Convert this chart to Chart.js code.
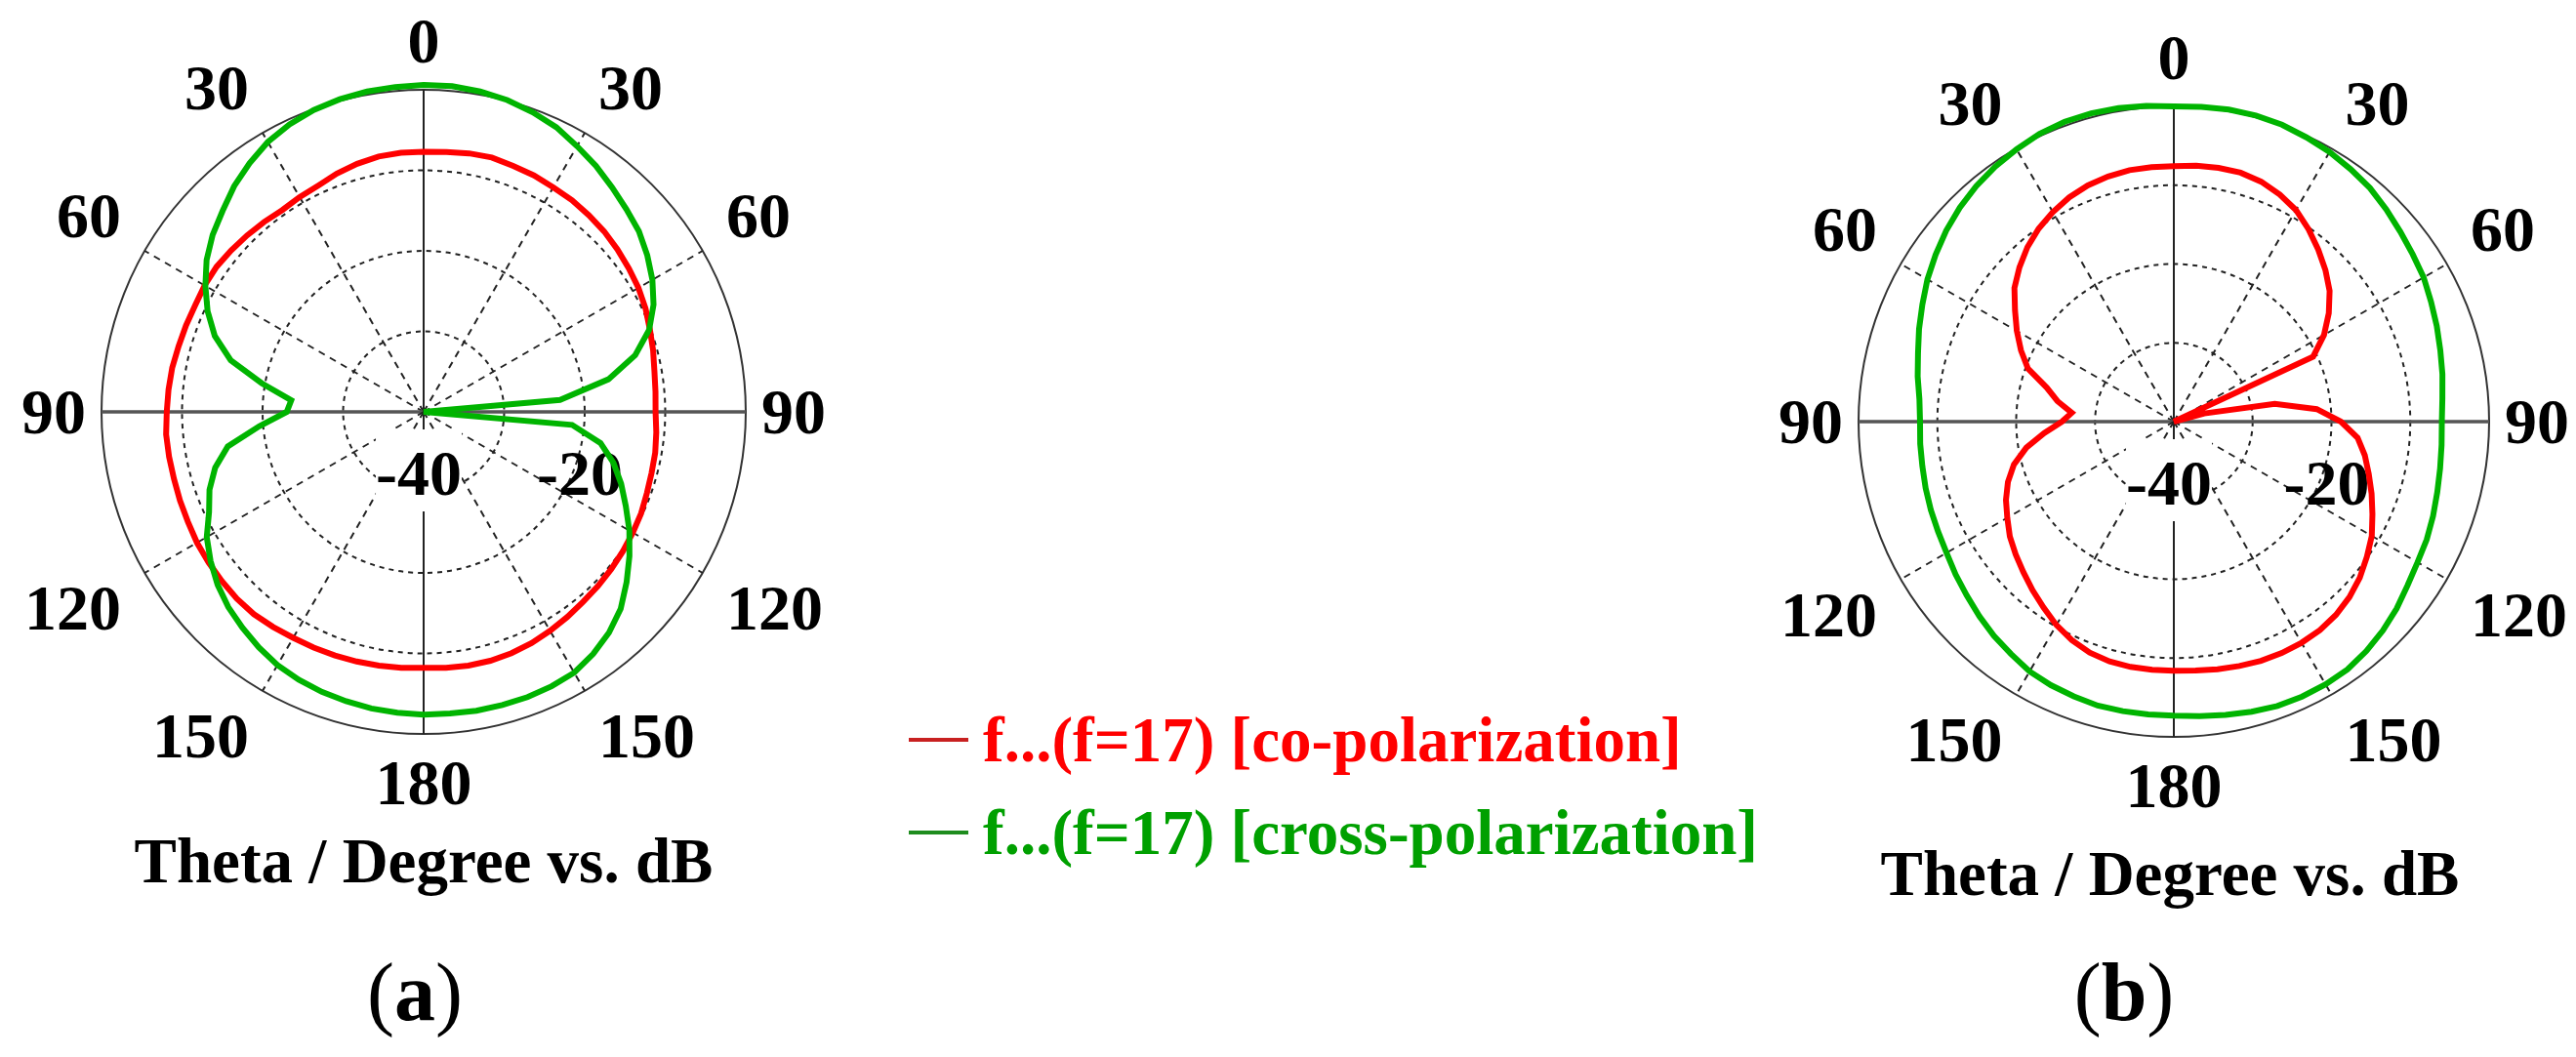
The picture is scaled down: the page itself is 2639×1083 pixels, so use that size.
<!DOCTYPE html>
<html>
<head>
<meta charset="utf-8">
<script src="https://cdn.jsdelivr.net/npm/chart.js@4.4.1/dist/chart.umd.min.js"></script>
<style>
  body { margin: 0; background: #fff; }
  #page { position: relative; width: 2639px; height: 1083px; overflow: hidden; font-family: "Liberation Serif", "Times New Roman", serif; }
  canvas { position: absolute; }
  .txt { position: absolute; font-size: 65px; line-height: 65px; font-weight: bold; white-space: nowrap; }
  .title { transform: translateX(-50%); color: #000; }
  .dash { position: absolute; width: 61px; height: 4px; }
  .cap { position: absolute; font-size: 84px; line-height: 84px; transform: translateX(-50%); white-space: nowrap; }
</style>
</head>
<body>
<div id="page">
  <canvas id="plotA" width="868" height="900" style="left:0;top:0"></canvas>
  <canvas id="plotB" width="846" height="900" style="left:1793px;top:0"></canvas>

  <div class="txt title" style="left:434px;top:850px">Theta / Degree vs. dB</div>
  <div class="txt title" style="left:2223px;top:863px">Theta / Degree vs. dB</div>

  <div class="dash" style="left:931px;top:756px;background:#c82020"></div>
  <div class="txt" style="left:1007px;top:726px;color:#ff0000">f...(f=17) [co-polarization]</div>
  <div class="dash" style="left:931px;top:851px;background:#1e8c1e"></div>
  <div class="txt" style="left:1007px;top:821px;color:#00a000">f...(f=17) [cross-polarization]</div>

  <div class="cap" style="left:425px;top:975px">(<b>a</b>)</div>
  <div class="cap" style="left:2176px;top:975px">(<b>b</b>)</div>
</div>
<script>
// theta labels, clockwise from the top: right half 0..180, left half 175..5
const thetaLabels = [
  0, 5, 10, 15, 20, 25, 30, 35, 40, 45, 50, 55, 60, 65, 70, 75, 80, 85, 90,
  95, 100, 105, 110, 115, 120, 125, 130, 135, 140, 145, 150, 155, 160, 165, 170, 175, 180,
  175, 170, 165, 160, 155, 150, 145, 140, 135, 130, 125, 120, 115, 110, 105, 100, 95, 90,
  85, 80, 75, 70, 65, 60, 55, 50, 45, 40, 35, 30, 25, 20, 15, 10, 5,
];
const ringTicks = [-40, -20];

// (a) values in dB
const coA = [
  -7.7, -7.6, -7.4, -7.3, -7.5, -7.6, -7.8, -7.9, -8.1, -8.3, -8.6, -8.9, -9.2, -9.6, -10.1, -10.5, -10.9, -11.1, -11.2,
  -11.0, -10.8, -10.7, -10.5, -10.2, -10.0, -9.8, -9.6, -9.4, -9.2, -8.9, -8.6, -8.3, -8.1, -8.0, -8.0, -8.1, -8.2,
  -8.1, -8.0, -7.9, -7.8, -7.7, -7.6, -7.4, -7.2, -7.2, -7.3, -7.4, -7.5, -7.7, -7.8, -7.9, -7.9, -7.9, -8.1,
  -8.2, -8.3, -8.5, -8.6, -8.7, -8.6, -8.6, -8.8, -9.0, -9.2, -9.4, -9.2, -9.0, -8.5, -8.1, -7.8, -7.7,
];
const crossA = [
  0.6, 0.6, 0.4, 0.1, -0.4, -1.0, -1.9, -2.7, -3.6, -4.4, -5.1, -6.1, -7.2, -8.5, -10.2, -12.8, -16.7, -23.0, -40,
  -21.5, -17.7, -15.6, -13.9, -12.3, -10.5, -8.8, -7.1, -5.4, -4.2, -3.3, -2.6, -2.4, -2.3, -2.3, -2.3, -2.4, -2.4,
  -2.5, -2.6, -2.8, -3.0, -3.3, -3.7, -4.3, -5.0, -5.7, -6.6, -7.7, -8.9, -10.6, -11.7, -13.2, -15.3, -19.5, -23.0,
  -23.5, -19.6, -15.2, -12.4, -10.4, -8.7, -7.1, -5.8, -4.7, -3.4, -2.3, -1.3, -0.6, -0.1, 0.2, 0.4, 0.5,
];

// (b) values in dB
const coB = [
  -7.6, -7.4, -7.3, -7.3, -7.6, -8.2, -9.0, -10.2, -11.5, -12.8, -14.2, -16.0, -18.0, -20.5, -40, -36, -27, -21.8, -18.8,
  -16.6, -15.4, -14.4, -13.3, -12.2, -11.0, -10.1, -9.2, -8.5, -8.0, -7.7, -7.6, -7.6, -7.7, -7.9, -8.1, -8.3, -8.4,
  -8.4, -8.4, -8.5, -8.8, -9.4, -10.2, -11.2, -12.1, -13.0, -13.8, -14.6, -15.6, -16.5, -17.6, -19.0, -21.0, -23.5, -25.8,
  -27.0, -25.0, -23.3, -20.3, -18.6, -17.0, -15.4, -13.6, -12.3, -11.1, -10.1, -9.3, -8.6, -8.1, -7.8, -7.6, -7.6,
];
const crossB = [
  0.0, 0.1, 0.2, 0.2, 0.1, -0.2, -0.5, -0.9, -1.3, -1.9, -2.5, -3.0, -3.4, -4.0, -4.5, -5.0, -5.4, -5.8, -6.0,
  -5.9, -5.7, -5.4, -5.0, -4.6, -4.3, -3.8, -3.1, -2.5, -2.0, -1.6, -1.5, -1.5, -1.6, -1.9, -2.2, -2.5, -2.7,
  -2.7, -2.7, -2.7, -2.9, -3.1, -3.4, -4.0, -4.5, -5.1, -5.7, -6.2, -6.7, -7.0, -7.2, -7.4, -7.6, -7.7, -7.8,
  -7.6, -7.0, -6.4, -5.6, -4.8, -3.9, -3.1, -2.3, -1.6, -1.0, -0.5, -0.1, 0.3, 0.5, 0.5, 0.4, 0.2,
];

// angle and ring labels, placed with the radial scale
const gridText = {
  id: 'gridText',
  beforeDatasetsDraw(chart) {
    const scale = chart.scales.r;
    const ctx = chart.ctx;
    const R = scale.drawingArea;
    ctx.save();
    ctx.font = 'bold 66px "Liberation Serif"';
    ctx.fillStyle = '#000';
    ctx.textBaseline = 'alphabetic';

    chart.data.labels.forEach((label, i) => {
      if (i % 6 !== 0) return;
      const ang = scale.getIndexAngle(i);
      const s = Math.sin(ang);
      const c = Math.cos(ang);
      const p = scale.getPointPosition(i, R + (Math.abs(s) > 0.99 ? 16 : 28));
      ctx.textAlign = s > 0.01 ? 'left' : (s < -0.01 ? 'right' : 'center');
      const y = c > 0.01 ? p.y : (c < -0.01 ? p.y + 44 : p.y + 22);
      ctx.fillText(String(label), p.x, y);
    });

    ctx.textAlign = 'center';
    ringTicks.forEach(v => {
      const p = scale.getPointPosition(18, scale.getDistanceFromCenterForValue(v));
      const x = p.x - 5;
      const text = String(v);
      if (v === -40) {
        const w = ctx.measureText(text).width;
        ctx.fillStyle = '#fff';
        ctx.fillRect(x - w / 2, scale.yCenter + 18, w, 84);
        ctx.fillStyle = '#000';
      }
      ctx.fillText(text, x, scale.yCenter + 85);
    });
    ctx.restore();
  },
};

const polarChart = (id, coValues, crossValues, pad) => new Chart(document.getElementById(id), {
  type: 'radar',
  data: {
    labels: thetaLabels,
    datasets: [
      { label: 'co-polarization', data: coValues, borderColor: '#ff0000', order: 1 },
      { label: 'cross-polarization', data: crossValues, borderColor: '#00b400', order: 0 },
    ],
  },
  options: {
    responsive: false,
    animation: false,
    layout: { padding: pad },
    elements: {
      point: { radius: 0 },
      line: { borderWidth: 6, tension: 0, fill: false },
    },
    datasets: { radar: { clip: false } },
    plugins: {
      legend: { display: false },
      tooltip: { enabled: false },
    },
    scales: {
      r: {
        min: -40,
        max: 0,
        ticks: { display: false, stepSize: 10 },
        pointLabels: { display: false },
        grid: {
          circular: true,
          color: ctx => (ctx.index === 4 ? '#333' : '#222'),
          lineWidth: ctx => (ctx.index === 4 ? 2 : 2),
        },
        border: { dash: ctx => (ctx.index === 4 ? [] : [5, 5]) },
        angleLines: {
          color: ctx => (ctx.index % 6 ? 'transparent' : (ctx.index % 36 === 18 ? '#555' : '#222')),
          lineWidth: ctx => (ctx.index % 6 ? 0 : (ctx.index % 36 === 18 ? 3.5 : 2)),
          borderDash: ctx => (ctx.index % 18 === 0 ? [] : [7, 6]),
        },
      },
    },
  },
  plugins: [gridText],
});

polarChart('plotA', coA, crossA, { left: 104, right: 104, top: 92, bottom: 148 });
polarChart('plotB', coB, crossB, { left: 111, right: 89, top: 109, bottom: 145 });
</script>
</body>
</html>
